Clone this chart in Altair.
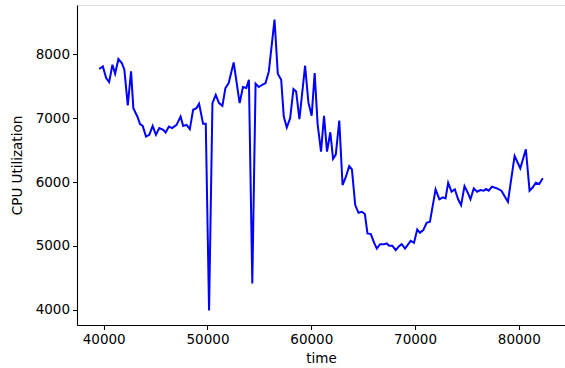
import altair as alt
import pandas as pd

time = [39562, 39917, 40234, 40522, 40839, 41098, 41415, 41741, 41991, 42317,
        42634, 42855, 43239, 43498, 43757, 44074, 44391, 44717, 45034, 45351,
        45735, 45965, 46282, 46599, 47021, 47405, 47655, 47981, 48298, 48615,
        48941, 49191, 49575, 49834, 50151, 50477, 50794, 51111, 51437, 51725,
        52042, 52522, 53098, 53415, 53741, 53991, 54317, 54634, 54951, 55277,
        55594, 55911, 56458, 56775, 57101, 57351, 57639, 57965, 58282, 58541,
        58858, 59405, 59722, 60039, 60327, 60615, 60941, 61229, 61517, 61834,
        62103, 62362, 62698, 63015, 63341, 63658, 63917, 64234, 64551, 64877,
        65165, 65415, 65741, 66058, 66317, 66634, 67018, 67277, 67498, 67815,
        68141, 68458, 68717, 69034, 69581, 69898, 70215, 70474, 70791, 71117,
        71434, 71981, 72346, 72682, 72941, 73191, 73517, 73834, 74151, 74439,
        74765, 75082, 75341, 75658, 75975, 76301, 76618, 76839, 77098, 77415,
        77895, 78317, 78951, 79594, 80141, 80679, 81034, 81351, 81639, 81965,
        82311]

cpu = [7771, 7812, 7630, 7566, 7838, 7697, 7927, 7865, 7760, 7199,
       7733, 7158, 7027, 6907, 6880, 6712, 6740, 6880, 6740, 6845,
       6818, 6776, 6870, 6845, 6896, 7027, 6880, 6896, 6829, 7132,
       7158, 7226, 6912, 6912, 3990, 7237, 7366, 7237, 7194, 7472,
       7550, 7874, 7237, 7488, 7472, 7602, 4411, 7540, 7488, 7524,
       7550, 7733, 8545, 7697, 7602, 7027, 6854, 7001, 7456, 7419,
       6984, 7822, 7247, 7039, 7707, 6900, 6477, 7039, 6477, 6780,
       6365, 6430, 6963, 5954, 6085, 6252, 6200, 5640, 5519, 5535,
       5499, 5196, 5185, 5049, 4960, 5028, 5028, 5039, 5002, 5002,
       4934, 4997, 5028, 4960, 5080, 5049, 5259, 5206, 5248, 5363,
       5378, 5887, 5730, 5761, 5745, 5990, 5849, 5887, 5730, 5640,
       5938, 5834, 5730, 5902, 5849, 5876, 5865, 5891, 5865, 5928,
       5902, 5865, 5692, 6409, 6216, 6514, 5865, 5918, 5990, 5970,
       6059]

x_ticks = [40000, 50000, 60000, 70000, 80000]
y_ticks = [4000, 5000, 6000, 7000, 8000]

df = pd.DataFrame({"time": time, "cpu": cpu})

FONT = "DejaVu Sans"

chart = alt.Chart(df).mark_line(color="#0000ff", strokeWidth=2, clip=True).encode(
    x=alt.X("time:Q",
            scale=alt.Scale(domain=[37425, 84450], nice=False, zero=False),
            axis=alt.Axis(title="time", values=x_ticks, format="d", grid=False,
                          labelFontSize=13.5, titleFontSize=13.5, labelFont=FONT,
                          titleFont=FONT, labelColor="#000000", titleColor="#000000",
                          titleFontWeight="normal", domainColor="#000000",
                          tickColor="#000000", tickSize=4.5, tickWidth=1.1,
                          domainWidth=1.1, labelPadding=3, titlePadding=5)),
    y=alt.Y("cpu:Q",
            scale=alt.Scale(domain=[3762, 8773], nice=False, zero=False),
            axis=alt.Axis(title="CPU Utilization", values=y_ticks, format="d", grid=False,
                          labelFontSize=13.5, titleFontSize=13.5, labelFont=FONT,
                          titleFont=FONT, labelColor="#000000", titleColor="#000000",
                          titleFontWeight="normal", domainColor="#000000",
                          tickColor="#000000", tickSize=4.5, tickWidth=1.1,
                          domainWidth=1.1, labelPadding=3, titlePadding=11)),
).properties(
    width=488, height=320,
    autosize=alt.AutoSizeParams(type="none"),
    padding={"left": 77, "top": 5, "right": 0, "bottom": 43},
).configure_view(stroke=None).configure(background="white")

chart.save("out.html", embed_options={"renderer": "svg", "actions": False})
